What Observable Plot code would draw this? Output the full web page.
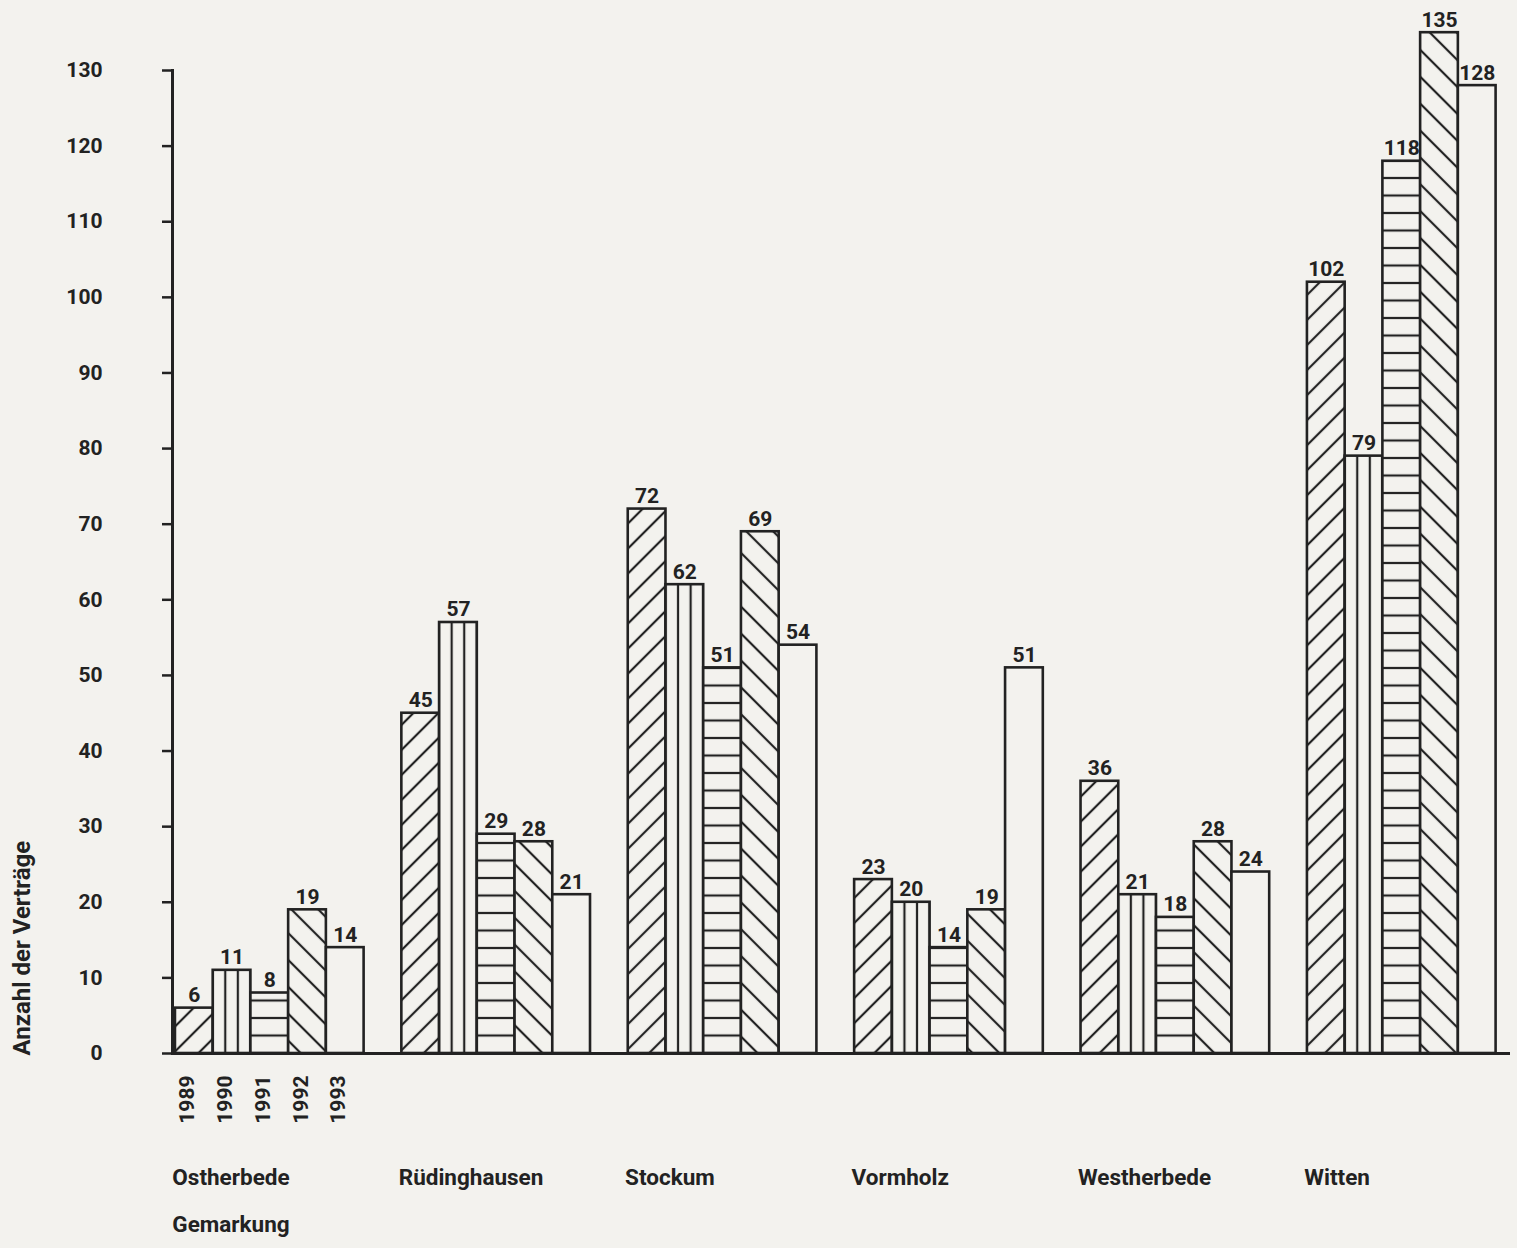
<!DOCTYPE html>
<html>
<head>
<meta charset="utf-8">
<script src="https://cdn.jsdelivr.net/npm/d3@7"></script>
<script src="https://cdn.jsdelivr.net/npm/@observablehq/plot@0.6"></script>
<style>
  html, body { margin: 0; padding: 0; background: #f3f2ee; }
  #chart svg { display: block; }
</style>
</head>
<body>
<div id="chart"></div>
<script>
// ---- data ----
const groups = ["Ostherbede", "Rüdinghausen", "Stockum", "Vormholz", "Westherbede", "Witten"];
const years = ["1989", "1990", "1991", "1992", "1993"];
const v1989 = [6, 45, 72, 23, 36, 102];
const v1990 = [11, 57, 62, 20, 21, 79];
const v1991 = [8, 29, 51, 14, 18, 118];
const v1992 = [19, 28, 69, 19, 28, 135];
const v1993 = [14, 21, 54, 51, 24, 128];
const yTicks = [0, 10, 20, 30, 40, 50, 60, 70, 80, 90, 100, 110, 120, 130];
const yTitle = "Anzahl der Verträge";
const xTitle = "Gemarkung";

const seriesValues = [v1989, v1990, v1991, v1992, v1993];
const data = groups.flatMap((g, i) => years.map((y, j) => ({
  group: g, year: y, key: g + "|" + y, value: seriesValues[j][i]
})));
// band domain: five bars per group, one empty band between groups
const xDomain = groups.flatMap((g, i) => [
  ...years.map(y => g + "|" + y),
  ...(i < groups.length - 1 ? ["gap|" + i] : [])
]);

const paper = "#f3f2ee";
const ink = "#222222";
const fs = 21;
const fsWords = 22.5;

const svg = Plot.plot({
  width: 1517,
  height: 1248,
  marginLeft: 172,
  marginRight: 7,
  marginTop: 70,
  marginBottom: 195,
  style: {background: paper, color: ink, fontFamily: "Roboto, sans-serif", fontSize: fs + "px", fontWeight: "bold"},
  x: {domain: xDomain, paddingInner: 0, paddingOuter: 0.23, align: 0.17, round: false, axis: null},
  y: {domain: [0, 130], axis: null},
  marks: [
    ...years.map(y => Plot.barY(data.filter(d => d.year === y), {
      x: "key", y: "value",
      fill: y === "1993" ? paper : `url(#pat${y})`,
      stroke: ink, strokeWidth: 2.6
    })),
    Plot.text(data, {x: "key", y: "value", text: d => String(d.value), lineAnchor: "bottom", dy: -6, fill: ink, fontSize: fs}),
    Plot.ruleY([0], {stroke: ink, strokeWidth: 3}),
    Plot.frame({anchor: "left", stroke: ink, strokeWidth: 3}),
    Plot.axisY({ticks: yTicks, tickSize: 10, tickPadding: 60, label: null, strokeWidth: 2.5, fontSize: fs}),
    Plot.text(years, {x: y => groups[0] + "|" + y, text: y => y, frameAnchor: "bottom", rotate: -90, textAnchor: "end", dy: 22, fill: ink, fontSize: fs}),
    Plot.text(groups, {x: g => g + "|" + years[0], text: g => g, frameAnchor: "bottom", textAnchor: "start", dx: -22, dy: 131, fill: ink, fontSize: fsWords}),
    Plot.text([xTitle], {x: () => groups[0] + "|" + years[0], text: d => d, frameAnchor: "bottom", textAnchor: "start", dx: -22, dy: 178, fill: ink, fontSize: fsWords}),
    Plot.text([yTitle], {frameAnchor: "bottom-left", text: d => d, rotate: -90, textAnchor: "start", dx: -143, dy: 2, fill: ink, fontSize: 24})
  ]
});

// ---- hatch patterns ----
const xs = svg.scale("x");
const ys = svg.scale("y");
const x0 = xs.apply(xDomain[0]);
const bw = xs.bandwidth;
const yBase = ys.apply(0);
const defs = d3.select(svg).insert("defs", ":first-child");

function diag(id, gap, angle) {
  const p = defs.append("pattern").attr("id", id).attr("patternUnits", "userSpaceOnUse")
    .attr("width", gap).attr("height", gap).attr("patternTransform", `rotate(${angle})`);
  p.append("rect").attr("width", gap).attr("height", gap).attr("fill", paper);
  [0, gap].forEach(x => p.append("line").attr("x1", x).attr("x2", x).attr("y1", 0).attr("y2", gap)
    .attr("stroke", ink).attr("stroke-width", 2.2));
}
diag("pat1989", 17.7, 45);
diag("pat1992", 19, -45);

{
  const w = bw / 3;
  const p = defs.append("pattern").attr("id", "pat1990").attr("patternUnits", "userSpaceOnUse")
    .attr("x", x0).attr("y", 0).attr("width", w).attr("height", 20);
  p.append("rect").attr("width", w).attr("height", 20).attr("fill", paper);
  [0, w].forEach(x => p.append("line").attr("x1", x).attr("x2", x).attr("y1", 0).attr("y2", 20)
    .attr("stroke", ink).attr("stroke-width", 2.2));
}
{
  const h = 17.5;
  const p = defs.append("pattern").attr("id", "pat1991").attr("patternUnits", "userSpaceOnUse")
    .attr("x", 0).attr("y", yBase).attr("width", 20).attr("height", h);
  p.append("rect").attr("width", 20).attr("height", h).attr("fill", paper);
  [0, h].forEach(y => p.append("line").attr("x1", 0).attr("x2", 20).attr("y1", y).attr("y2", y)
    .attr("stroke", ink).attr("stroke-width", 2.2));
}

document.getElementById("chart").appendChild(svg);
</script>
</body>
</html>
